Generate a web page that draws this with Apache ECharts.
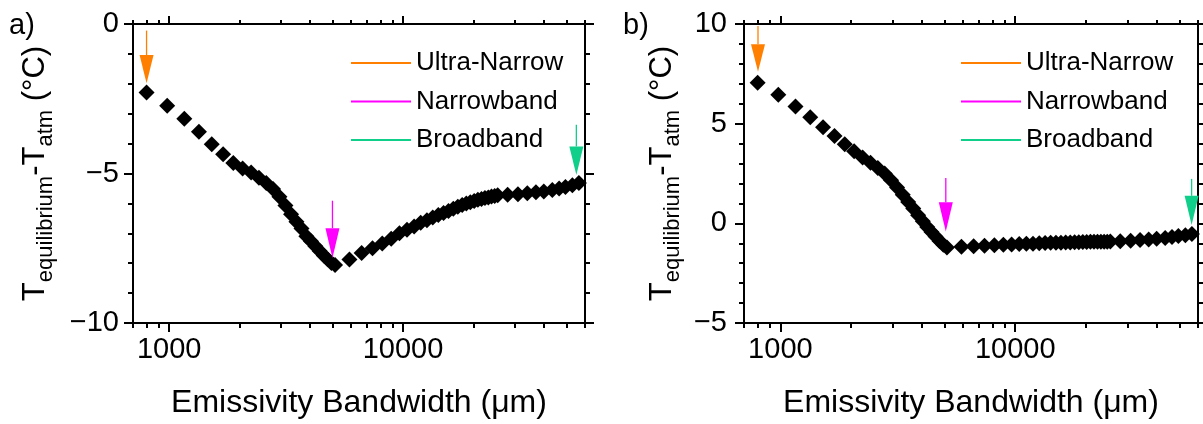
<!DOCTYPE html>
<html><head><meta charset="utf-8">
<script src="https://cdn.jsdelivr.net/npm/echarts@6/dist/echarts.min.js"></script>
<style>html,body{margin:0;padding:0;background:#fff}#c{width:1203px;height:424px}</style>
</head><body><div id="c"></div>
<script>
// ---------- data ----------
const bandwidth = [800, 980, 1160, 1340, 1520, 1700, 1880, 2060, 2240, 2420, 2600, 2780, 2960, 3140, 3320, 3500, 3680, 3860, 4040, 4220, 4400, 4580, 4760, 4940, 5120,
  5900, 6650, 7400, 8150, 8900, 9650, 10400, 11150, 11900, 12650, 13400, 14150, 14900, 15650, 16400, 17150, 17900, 18650, 19400, 20150, 20900, 21650, 22400, 23150, 23900, 24650, 25400,
  28000, 31000, 34000, 37000, 40000, 43500, 46500, 49500, 53000, 56500];
const tempDiffA = [-2.29, -2.73, -3.17, -3.6, -4.02, -4.36, -4.65, -4.83, -4.97, -5.14, -5.32, -5.52, -5.78, -6.07, -6.36, -6.61, -6.84, -7.1, -7.27, -7.43, -7.59, -7.74, -7.87, -7.99, -8.06,
  -7.88, -7.66, -7.5, -7.34, -7.18, -7.0, -6.88, -6.77, -6.65, -6.56, -6.47, -6.39, -6.32, -6.25, -6.18, -6.11, -6.05, -6.0, -5.96, -5.92, -5.88, -5.85, -5.82, -5.8, -5.77, -5.75, -5.73,
  -5.71, -5.69, -5.66, -5.63, -5.6, -5.55, -5.5, -5.45, -5.39, -5.32];
const tempDiffB = [7.05, 6.45, 5.86, 5.32, 4.82, 4.38, 3.97, 3.62, 3.3, 3.04, 2.78, 2.5, 2.16, 1.8, 1.43, 1.07, 0.74, 0.41, 0.11, -0.18, -0.43, -0.66, -0.89, -1.08, -1.21,
  -1.18, -1.15, -1.12, -1.1, -1.08, -1.06, -1.04, -1.03, -1.02, -1.0, -0.99, -0.98, -0.97, -0.97, -0.96, -0.96, -0.95, -0.95, -0.94, -0.94, -0.93, -0.93, -0.93, -0.92, -0.92, -0.92, -0.91,
  -0.9, -0.87, -0.84, -0.81, -0.77, -0.73, -0.69, -0.64, -0.6, -0.54];
const majorTicks = [1000, 10000];
const minorTicks = [700, 800, 900, 2000, 3000, 4000, 5000, 6000, 7000, 8000, 9000, 20000, 30000, 40000, 50000, 60000];
const arrowNames = ['Ultra-Narrow', 'Narrowband', 'Broadband'];
// [bandwidth, shaft top, head base, head tip]
const arrowsA = [[800, -0.22, -1.04, -1.98], [4990, -5.91, -6.83, -7.83], [55100, -3.37, -4.1, -5.05]];
const arrowsB = [[803, 9.9, 8.98, 7.61], [5062, 2.27, 1.06, -0.41], [56360, 2.23, 1.38, -0.08]];
const panelLabels = ['a)', 'b)'];
const xTitle = 'Emissivity Bandwidth (\u03bcm)';

// ---------- styling ----------
const FONT = "'Liberation Sans', Arial, Helvetica, sans-serif";
const arrowColors = ['#FF8000', '#FF00FF', '#10CF8A'];
const BLACK = '#000';

function xAx(grid, pos, ticks, len, showLine, showLabel, name) {
  return {
    type: 'log', logBase: 10, gridIndex: grid, position: pos, min: 700, max: 60000,
    axisLine: {show: showLine, onZero: false, lineStyle: {color: BLACK, width: 2}},
    axisTick: {show: true, inside: false, length: len, customValues: ticks, lineStyle: {color: BLACK, width: 2}},
    minorTick: {show: false},
    axisLabel: showLabel ? {show: true, customValues: majorTicks, formatter: v => String(v), margin: 12,
      fontSize: 29, color: BLACK, fontFamily: FONT} : {show: false},
    splitLine: {show: false}, minorSplitLine: {show: false},
    name: name || '', nameLocation: 'middle', nameGap: 64,
    nameTextStyle: {fontSize: 32, color: BLACK, fontFamily: FONT}
  };
}
const yName = '{m|T}{s|equilibrium}{m|-T}{s|atm}{m| (\u00b0C)}';
function yAx(grid, pos, min, max, showLabel, nameGap, margin) {
  return {
    type: 'value', gridIndex: grid, position: pos, min: min, max: max, interval: 5,
    axisLine: {show: true, onZero: false, lineStyle: {color: BLACK, width: 2}},
    axisTick: {show: true, inside: false, length: 9, lineStyle: {color: BLACK, width: 2}},
    minorTick: {show: true, splitNumber: 5, length: 5, lineStyle: {color: BLACK, width: 2}},
    axisLabel: showLabel ? {show: true, margin: margin, fontSize: 29, color: BLACK, fontFamily: FONT,
      formatter: v => (v < 0 ? '\u2212' + Math.abs(v) : String(v))} : {show: false},
    splitLine: {show: false},
    name: showLabel ? yName : '', nameLocation: 'middle', nameRotate: 90, nameGap: nameGap,
    nameTextStyle: {fontSize: 31, color: BLACK, fontFamily: FONT,
      rich: {m: {fontSize: 31, color: BLACK, fontFamily: FONT},
             s: {fontSize: 22, color: BLACK, fontFamily: FONT, padding: [22, 0, 0, 0]}}}
  };
}

function arrowRender(params, api) {
  const x = api.value(0);
  const pTop = api.coord([x, api.value(1)]);
  const pBase = api.coord([x, api.value(2)]);
  const pTip = api.coord([x, api.value(3)]);
  const color = api.visual('color');
  const hw = 7;
  return {type: 'group', children: [
    {type: 'line', shape: {x1: pTop[0], y1: pTop[1], x2: pBase[0], y2: pBase[1]}, style: {stroke: color, lineWidth: 1.3}},
    {type: 'polygon', shape: {points: [[pBase[0] - hw, pBase[1]], [pBase[0] + hw, pBase[1]], [pTip[0], pTip[1]]]}, style: {fill: color}}
  ]};
}

const series = [];
[[tempDiffA, 0, 0, arrowsA], [tempDiffB, 4, 2, arrowsB]].forEach(([vals, xi, yi, arrows], p) => {
  series.push({type: 'scatter', name: 'Panel ' + panelLabels[p], xAxisIndex: xi, yAxisIndex: yi,
    symbol: 'diamond', symbolSize: 16, itemStyle: {color: BLACK, opacity: 1}, clip: false, z: 2,
    emphasis: {disabled: true},
    data: bandwidth.map((b, i) => [b, vals[i]])});
  arrows.forEach((a, k) => {
    series.push({type: 'custom', name: arrowNames[k], xAxisIndex: xi, yAxisIndex: yi, z: 3, clip: false,
      itemStyle: {color: arrowColors[k]}, color: arrowColors[k],
      renderItem: arrowRender, encode: {x: 0, y: [1, 2, 3]}, data: [a]});
  });
});

function legendAt(left) {
  return {orient: 'vertical', left: left, top: 50, itemWidth: 60, itemHeight: 2, itemGap: 12.5, padding: 0,
    selectedMode: false, data: arrowNames.map(n => ({name: n, icon: 'rect'})),
    textStyle: {fontSize: 26, color: BLACK, fontFamily: FONT}};
}

const option = {
  backgroundColor: '#fff',
  animation: false,
  title: [
    {text: panelLabels[0], left: 9, top: 11, padding: 0, textStyle: {fontSize: 29, fontWeight: 'normal', color: BLACK, fontFamily: FONT}},
    {text: panelLabels[1], left: 623, top: 11, padding: 0, textStyle: {fontSize: 29, fontWeight: 'normal', color: BLACK, fontFamily: FONT}}
  ],
  legend: [legendAt(351), legendAt(961)],
  grid: [
    {left: 133, top: 24, width: 452, height: 299},
    {left: 744, top: 24, width: 454, height: 299}
  ],
  xAxis: [
    xAx(0, 'bottom', majorTicks, 9, true, true, xTitle),
    xAx(0, 'bottom', minorTicks, 5, false, false),
    xAx(0, 'top', majorTicks, 8, true, false),
    xAx(0, 'top', minorTicks, 4, false, false),
    xAx(1, 'bottom', majorTicks, 9, true, true, xTitle),
    xAx(1, 'bottom', minorTicks, 5, false, false),
    xAx(1, 'top', majorTicks, 8, true, false),
    xAx(1, 'top', minorTicks, 4, false, false)
  ],
  yAxis: [
    yAx(0, 'left', -10, 0, true, 76, 14),
    yAx(0, 'right', -10, 0, false, 0, 0),
    yAx(1, 'left', -5, 10, true, 60, 17),
    yAx(1, 'right', -5, 10, false, 0, 0)
  ],
  series: series
};
const chart = echarts.init(document.getElementById('c'), null, {renderer: 'canvas'});
chart.setOption(option);
</script></body></html>
